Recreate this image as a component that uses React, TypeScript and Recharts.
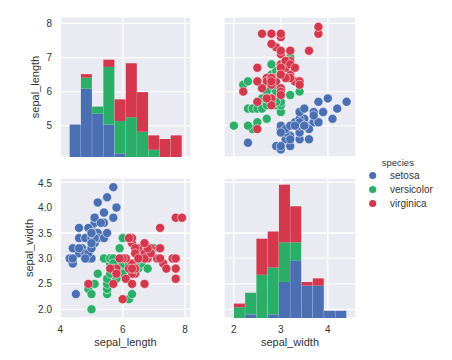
import React from 'react';
import { ScatterChart, Scatter, XAxis, YAxis, ZAxis, CartesianGrid, ComposedChart, Bar } from 'recharts';

const speciesNames = ['setosa', 'versicolor', 'virginica'];
const speciesColors = ['#4A6FB3', '#2AAE68', '#D3384C'];

const setosaSepalLength = [5.1,4.9,4.7,4.6,5.0,5.4,4.6,5.0,4.4,4.9,5.4,4.8,4.8,4.3,5.8,5.7,5.4,5.1,5.7,5.1,5.4,5.1,4.6,5.1,4.8,5.0,5.0,5.2,5.2,4.7,4.8,5.4,5.2,5.5,4.9,5.0,5.5,4.9,4.4,5.1,5.0,4.5,4.4,5.0,5.1,4.8,5.1,4.6,5.3,5.0];
const setosaSepalWidth = [3.5,3.0,3.2,3.1,3.6,3.9,3.4,3.4,2.9,3.1,3.7,3.4,3.0,3.0,4.0,4.4,3.9,3.5,3.8,3.8,3.4,3.7,3.6,3.3,3.4,3.0,3.4,3.5,3.4,3.2,3.1,3.4,4.1,4.2,3.1,3.2,3.5,3.6,3.0,3.4,3.5,2.3,3.2,3.5,3.8,3.0,3.8,3.2,3.7,3.3];
const versicolorSepalLength = [7.0,6.4,6.9,5.5,6.5,5.7,6.3,4.9,6.6,5.2,5.0,5.9,6.0,6.1,5.6,6.7,5.6,5.8,6.2,5.6,5.9,6.1,6.3,6.1,6.4,6.6,6.8,6.7,6.0,5.7,5.5,5.5,5.8,6.0,5.4,6.0,6.7,6.3,5.6,5.5,5.5,6.1,5.8,5.0,5.6,5.7,5.7,6.2,5.1,5.7];
const versicolorSepalWidth = [3.2,3.2,3.1,2.3,2.8,2.8,3.3,2.4,2.9,2.7,2.0,3.0,2.2,2.9,2.9,3.1,3.0,2.7,2.2,2.5,3.2,2.8,2.5,2.8,2.9,3.0,2.8,3.0,2.9,2.6,2.4,2.4,2.7,2.7,3.0,3.4,3.1,2.3,3.0,2.5,2.6,3.0,2.6,2.3,2.7,3.0,2.9,2.9,2.5,2.8];
const virginicaSepalLength = [6.3,5.8,7.1,6.3,6.5,7.6,4.9,7.3,6.7,7.2,6.5,6.4,6.8,5.7,5.8,6.4,6.5,7.7,7.7,6.0,6.9,5.6,7.7,6.3,6.7,7.2,6.2,6.1,6.4,7.2,7.4,7.9,6.4,6.3,6.1,7.7,6.3,6.4,6.0,6.9,6.7,6.9,5.8,6.8,6.7,6.7,6.3,6.5,6.2,5.9];
const virginicaSepalWidth = [3.3,2.7,3.0,2.9,3.0,3.0,2.5,2.9,2.5,3.6,3.2,2.7,3.0,2.5,2.8,3.2,3.0,3.8,2.6,2.2,3.2,2.8,2.8,2.7,3.3,3.2,2.8,3.0,2.8,3.0,2.8,3.8,2.8,2.8,2.6,3.0,3.4,3.1,3.0,3.1,3.1,3.1,2.7,3.2,3.3,3.0,2.5,3.0,3.4,3.0];

// histogram bins (bin centres) and stacked counts per species
const slBinMid = [4.48, 4.84, 5.2, 5.56, 5.92, 6.28, 6.64, 7.0, 7.36, 7.72];
const slSetosa = [9, 19, 12, 9, 1, 0, 0, 0, 0, 0];
const slVersicolor = [0, 3, 2, 16, 9, 11, 7, 2, 0, 0];
const slVirginica = [0, 1, 0, 2, 6, 15, 11, 4, 5, 6];

const swBinMid = [2.12, 2.36, 2.6, 2.84, 3.08, 3.32, 3.56, 3.8, 4.04, 4.28];
const swSetosa = [0, 1, 0, 1, 10, 16, 9, 9, 2, 2];
const swVersicolor = [3, 6, 12, 13, 11, 5, 0, 0, 0, 0];
const swVirginica = [1, 0, 10, 10, 16, 10, 1, 2, 0, 0];

const slTicks = [4, 6, 8];
const slRowTicks = [5, 6, 7, 8];
const swTicks = [2, 3, 4];
const swRowTicks = [2.0, 2.5, 3.0, 3.5, 4.0, 4.5];

const slColDomain = [3.99, 8.19];
const slRowDomain = [4.08, 8.19];
const swColDomain = [1.79, 4.6];
const swRowDomain = [1.83, 4.58];
const countDomain = [0, 38.85];

const slHist = slBinMid.map((mid, i) => ({ mid, setosa: slSetosa[i], versicolor: slVersicolor[i], virginica: slVirginica[i] }));
const swHist = swBinMid.map((mid, i) => ({ mid, setosa: swSetosa[i], versicolor: swVersicolor[i], virginica: swVirginica[i] }));

const lengths = [setosaSepalLength, versicolorSepalLength, virginicaSepalLength];
const widths = [setosaSepalWidth, versicolorSepalWidth, virginicaSepalWidth];

const lwPoints = lengths.map((ls, s) => ls.map((l, i) => ({ x: l, y: widths[s][i] })));
const wlPoints = lengths.map((ls, s) => ls.map((l, i) => ({ x: widths[s][i], y: l })));

const BG = '#EAEAF2';
const TXT = '#333333';
const tickStyle = { fill: TXT, fontSize: 10 };

export default function App() {
  return (
    <div style={{ position: 'absolute', left: 0, top: 0, width: 452, height: 360, background: '#fff', fontFamily: '"Liberation Sans", Arial, sans-serif' }}>
      {/* top-left: sepal_length histogram */}
      <div style={{ position: 'absolute', left: 0, top: 0 }}>
        <ComposedChart width={191} height={157} data={slHist} margin={{ top: 17, right: 0, bottom: 0, left: 0 }} barCategoryGap={0} barGap={0}>
          <CartesianGrid fill={BG} stroke="#fff" strokeWidth={1.3} yAxisId="v" />
          <XAxis type="number" dataKey="mid" domain={slColDomain} ticks={slTicks} hide allowDataOverflow />
          <YAxis yAxisId="v" type="number" domain={slRowDomain} ticks={slRowTicks} width={60} axisLine={false} tickLine={false} tick={tickStyle} allowDataOverflow
            label={{ value: 'sepal_length', angle: -90, position: 'insideLeft', offset: 35, fill: TXT, fontSize: 11, style: { textAnchor: 'middle' } }} />
          <YAxis yAxisId="c" orientation="right" width={0} type="number" domain={countDomain} hide allowDataOverflow />
          <Bar yAxisId="c" dataKey="setosa" stackId="s" fill={speciesColors[0]} isAnimationActive={false} />
          <Bar yAxisId="c" dataKey="versicolor" stackId="s" fill={speciesColors[1]} isAnimationActive={false} />
          <Bar yAxisId="c" dataKey="virginica" stackId="s" fill={speciesColors[2]} isAnimationActive={false} />
        </ComposedChart>
      </div>

      {/* top-right: sepal_width vs sepal_length */}
      <div style={{ position: 'absolute', left: 224, top: 0 }}>
        <ScatterChart width={132} height={157} margin={{ top: 17, right: 0, bottom: 0, left: 0 }}>
          <CartesianGrid fill={BG} stroke="#fff" strokeWidth={1.3} />
          <XAxis type="number" dataKey="x" domain={swColDomain} ticks={swTicks} hide allowDataOverflow />
          <YAxis type="number" dataKey="y" domain={slRowDomain} ticks={slRowTicks} hide allowDataOverflow />
          <ZAxis range={[40, 40]} />
          {wlPoints.map((pts, s) => (
            <Scatter key={s} name={speciesNames[s]} data={pts} fill={speciesColors[s]} stroke="#fff" strokeWidth={0.5} isAnimationActive={false} />
          ))}
        </ScatterChart>
      </div>

      {/* bottom-left: sepal_length vs sepal_width */}
      <div style={{ position: 'absolute', left: 0, top: 178 }}>
        <ScatterChart width={191} height={182} margin={{ top: 0, right: 0, bottom: 0, left: 0 }}>
          <CartesianGrid fill={BG} stroke="#fff" strokeWidth={1.3} />
          <XAxis type="number" dataKey="x" domain={slColDomain} ticks={slTicks} height={42} axisLine={false} tickLine={false} tick={tickStyle} allowDataOverflow
            label={{ value: 'sepal_length', position: 'insideBottom', offset: 14, fill: TXT, fontSize: 11 }} />
          <YAxis type="number" dataKey="y" domain={swRowDomain} ticks={swRowTicks} width={60} axisLine={false} tickLine={false} tick={tickStyle} allowDataOverflow
            tickFormatter={(v: number) => v.toFixed(1)}
            label={{ value: 'sepal_width', angle: -90, position: 'insideLeft', offset: 29, fill: TXT, fontSize: 11, style: { textAnchor: 'middle' } }} />
          <ZAxis range={[40, 40]} />
          {lwPoints.map((pts, s) => (
            <Scatter key={s} name={speciesNames[s]} data={pts} fill={speciesColors[s]} stroke="#fff" strokeWidth={0.5} isAnimationActive={false} />
          ))}
        </ScatterChart>
      </div>

      {/* bottom-right: sepal_width histogram */}
      <div style={{ position: 'absolute', left: 224, top: 178 }}>
        <ComposedChart width={132} height={182} data={swHist} margin={{ top: 0, right: 0, bottom: 0, left: 0 }} barCategoryGap={0} barGap={0}>
          <CartesianGrid fill={BG} stroke="#fff" strokeWidth={1.3} yAxisId="v" />
          <XAxis type="number" dataKey="mid" domain={swColDomain} ticks={swTicks} height={42} axisLine={false} tickLine={false} tick={tickStyle} allowDataOverflow
            label={{ value: 'sepal_width', position: 'insideBottom', offset: 14, fill: TXT, fontSize: 11 }} />
          <YAxis yAxisId="v" type="number" domain={swRowDomain} ticks={swRowTicks} hide allowDataOverflow />
          <YAxis yAxisId="c" orientation="right" width={0} type="number" domain={countDomain} hide allowDataOverflow />
          <Bar yAxisId="c" dataKey="setosa" stackId="s" fill={speciesColors[0]} isAnimationActive={false} />
          <Bar yAxisId="c" dataKey="versicolor" stackId="s" fill={speciesColors[1]} isAnimationActive={false} />
          <Bar yAxisId="c" dataKey="virginica" stackId="s" fill={speciesColors[2]} isAnimationActive={false} />
        </ComposedChart>
      </div>

      {/* legend */}
      <svg style={{ position: 'absolute', left: 360, top: 150 }} width={92} height={70}>
        <text x={21.7} y={15.5} fontSize={9.5} fill={TXT}>species</text>
        {speciesNames.map((name, s) => (
          <g key={name}>
            <circle cx={12.7} cy={25.5 + s * 14} r={3.6} fill={speciesColors[s]} />
            <text x={30} y={29 + s * 14} fontSize={10} fill={TXT}>{name}</text>
          </g>
        ))}
      </svg>
    </div>
  );
}
